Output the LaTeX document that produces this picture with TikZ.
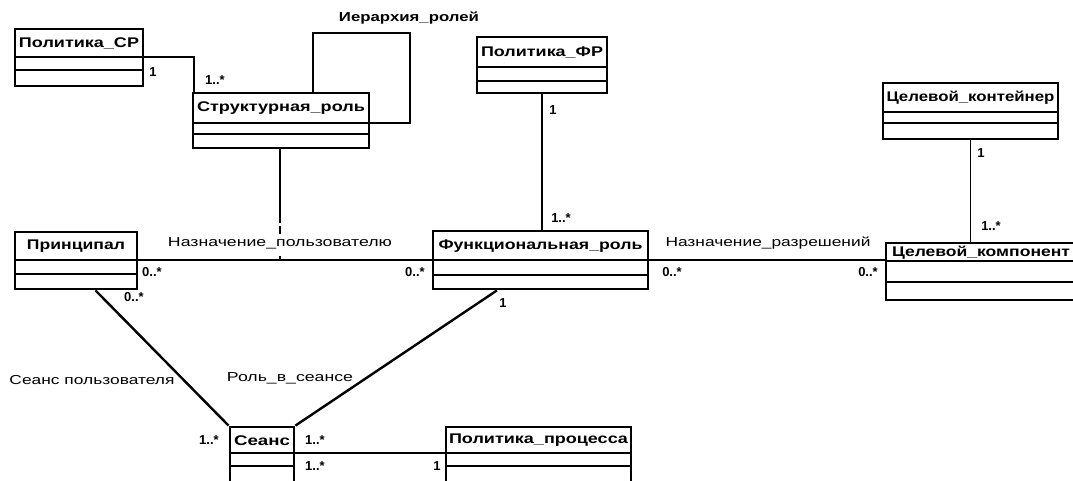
\documentclass[tikz,border=0pt]{standalone}
\usepackage{fontspec}
\setmainfont{Liberation Sans}
\usepackage{graphicx}
\usetikzlibrary{fit,calc}
\newcommand{\fw}[2]{\resizebox{#1}{\height}{#2}}
\tikzset{
  classbox/.style={draw, line width=2.8pt, inner sep=0pt, fill=white},
  sepline/.style={line width=1.8pt},
  conn/.style={line width=1.8pt},
  diag/.style={line width=2.4pt},
  classname/.style={font=\fontsize{14}{14}\selectfont\bfseries, inner sep=0pt},
  assoc/.style={font=\fontsize{13}{13}\selectfont, inner sep=0pt},
  mult/.style={font=\fontsize{13}{13}\selectfont\bfseries, inner sep=0pt},
}
% #1 name, #2 x1, #3 y1, #4 x2, #5 y2, #6 header bottom, #7 separator, #8 text width, #9 text
\newcommand{\umlbox}[9]{%
  \node[classbox, fit={(#2,#3) (#4,#5)}] (#1) {};
  \coordinate (#1-hw) at (#2,#6);
  \coordinate (#1-he) at (#4,#6);
  \coordinate (#1-sw) at (#2,#7);
  \coordinate (#1-se) at (#4,#7);
  \draw[sepline] (#1-hw) -- (#1-he);
  \draw[sepline] (#1-sw) -- (#1-se);
  \node[classname] (#1-t) at ({(#2+#4)/2},{(#3+#6)/2+0.5}) {\fw{#8pt}{#9}};
}
\begin{document}
\begin{tikzpicture}[x=1pt,y=-1pt]
\useasboundingbox (0,0) rectangle (1073,480);
\clip (0,0) rectangle (1073,480);
\fill[white] (0,0) rectangle (1073,480);

\coordinate (loopA) at (313,33);
\coordinate (loopB) at (410,33);
\coordinate (ucA) at (280,260);

% classes
\umlbox{psr}{15}{29}{143}{86}{57}{70}{120}{Политика\_СР}
\umlbox{sr}{193}{93}{369}{148}{123}{134}{168}{Структурная\_роль}
\umlbox{pfr}{477}{37}{607}{93}{67}{81}{122}{Политика\_ФР}
\umlbox{tcont}{883}{83}{1058}{139}{112}{123}{168}{Целевой\_контейнер}
\umlbox{pr}{15}{232}{137}{289}{260}{274}{98}{Принципал}
\umlbox{fr}{433}{231}{648}{289}{260}{275}{204}{Функциональная\_роль}
\umlbox{tcomp}{886}{243}{1076}{300}{261}{282}{178}{Целевой\_компонент}
\umlbox{ses}{230}{427}{294}{484}{453}{466}{56}{Сеанс}
\umlbox{pp}{446}{427}{631}{484}{453}{466}{179}{Политика\_процесса}

% Политика_СР -- Структурная_роль
\draw[conn] (psr-he) -| ($(sr.north west)+(2,0)$);
\node[mult] (m1) at (153,72) {1};
\node[mult] (m2) at (215,80) {1..*};

% self loop
\draw[conn] (loopA |- sr.north) -- (loopA) -- (loopB) |- (sr-he);
\node[assoc, font=\fontsize{13}{13}\selectfont\bfseries] (l1) at (409,18) {\fw{140pt}{Иерархия\_ролей}};

% association class link
\draw[conn, dash pattern=on 74pt off 3pt on 8pt off 22pt on 5pt off 10pt] (ucA |- sr.south) -- (ucA);

% Назначение_пользователю
\draw[conn] (pr-he) -- (fr-hw);
\node[assoc] (l2) at (280,243) {\fw{224pt}{Назначение\_пользователю}};
\node[mult] (m3) at (152,272) {0..*};
\node[mult] (m4) at (415,272) {0..*};

% Политика_ФР -- Функциональная_роль
\draw[conn] (pfr.south) -- (pfr.south |- fr.north);
\node[mult] (m5) at (553,110) {1};
\node[mult] (m6) at (561,218) {1..*};

% Назначение_разрешений
\draw[conn] (fr-he) -- (fr-he -| tcomp.west);
\node[assoc] (l3) at (768,243) {\fw{205pt}{Назначение\_разрешений}};
\node[mult] (m7) at (672,272) {0..*};
\node[mult] (m8) at (868,272) {0..*};

% Целевой_контейнер -- Целевой_компонент
\draw[conn] (tcont.south) -- (tcont.south |- tcomp.north);
\node[mult] (m9) at (981,153) {1};
\node[mult] (m10) at (991,226) {1..*};

% Принципал -- Сеанс
\draw[diag] ($(pr.south west)!0.656!(pr.south east)$) -- (ses.north west);
\node[mult] (m11) at (134,297) {0..*};
\node[mult] (m12) at (209,440) {1..*};
\node[assoc] (l4) at (92,380) {\fw{165pt}{Сеанс пользователя}};

% Функциональная_роль -- Сеанс
\draw[diag] ($(fr.south west)!0.3!(fr.south east)$) -- (ses.north east);
\node[mult] (m13) at (503,303) {1};
\node[mult] (m14) at (315,440) {1..*};
\node[assoc] (l5) at (290,378) {\fw{126pt}{Роль\_в\_сеансе}};

% Сеанс -- Политика_процесса
\draw[conn] (ses-he) -- (pp-hw);
\node[mult] (m15) at (315,466) {1..*};
\node[mult] (m16) at (437,466) {1};
\end{tikzpicture}
\end{document}
